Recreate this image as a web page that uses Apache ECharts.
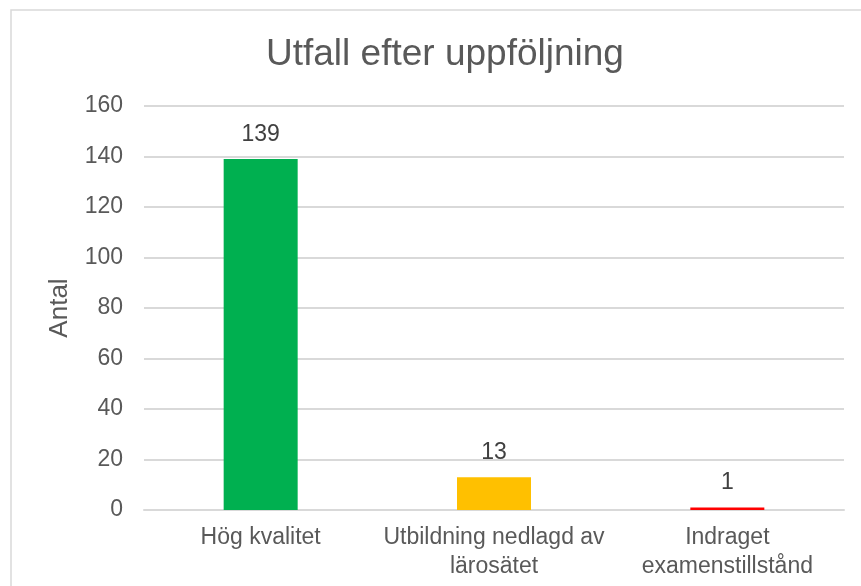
<!DOCTYPE html>
<html>
<head>
<meta charset="utf-8">
<script src="https://cdn.jsdelivr.net/npm/echarts@6/dist/echarts.min.js"></script>
<style>
  html, body { margin: 0; padding: 0; background: #fff; }
  #chart { width: 861px; height: 586px; }
</style>
</head>
<body>
<div id="chart"></div>
<script>
var categories = ["Hög kvalitet", "Utbildning nedlagd av\nlärosätet", "Indraget\nexamenstillstånd"];
var values = [139, 13, 1];
var barColors = ["#00B050", "#FFC000", "#FF0000"];
var yTicks = [0, 20, 40, 60, 80, 100, 120, 140, 160];

var textColor = "#595959";
var fontName = "Liberation Sans, Arial, sans-serif";

var myChart = echarts.init(document.getElementById("chart"));

var option = {
  animation: false,
  graphic: [
    {
      type: "rect",
      shape: { x: 11, y: 10, width: 900, height: 620 },
      style: { fill: "none", stroke: "#D9D9D9", lineWidth: 1.5 }
    }
  ],
  title: {
    text: "Utfall efter uppföljning",
    left: 261,
    top: 31,
    textStyle: {
      color: textColor,
      fontFamily: fontName,
      fontWeight: "normal",
      fontSize: 37
    }
  },
  grid: {
    left: 144,
    right: 17,
    top: 106,
    bottom: 76
  },
  xAxis: {
    type: "category",
    data: categories,
    axisLine: { lineStyle: { color: "#D9D9D9", width: 2 } },
    axisTick: { show: false },
    axisLabel: {
      color: textColor,
      fontFamily: fontName,
      fontSize: 23,
      lineHeight: 29,
      margin: 13,
      interval: 0
    }
  },
  yAxis: {
    type: "value",
    min: yTicks[0],
    max: yTicks[yTicks.length - 1],
    interval: 20,
    name: "Antal",
    nameLocation: "middle",
    nameGap: 71,
    nameTextStyle: {
      color: textColor,
      fontFamily: fontName,
      fontSize: 26
    },
    axisLine: { show: false },
    axisTick: { show: false },
    axisLabel: {
      color: textColor,
      fontFamily: fontName,
      fontSize: 23,
      margin: 21
    },
    splitLine: { lineStyle: { color: "#D9D9D9", width: 2 } }
  },
  series: [
    {
      type: "bar",
      barWidth: 74,
      data: values.map(function (v, i) {
        return { value: v, itemStyle: { color: barColors[i] } };
      }),
      label: {
        show: true,
        position: "top",
        distance: 13,
        color: "#404040",
        fontFamily: fontName,
        fontSize: 23
      }
    }
  ]
};

myChart.setOption(option);
</script>
</body>
</html>
